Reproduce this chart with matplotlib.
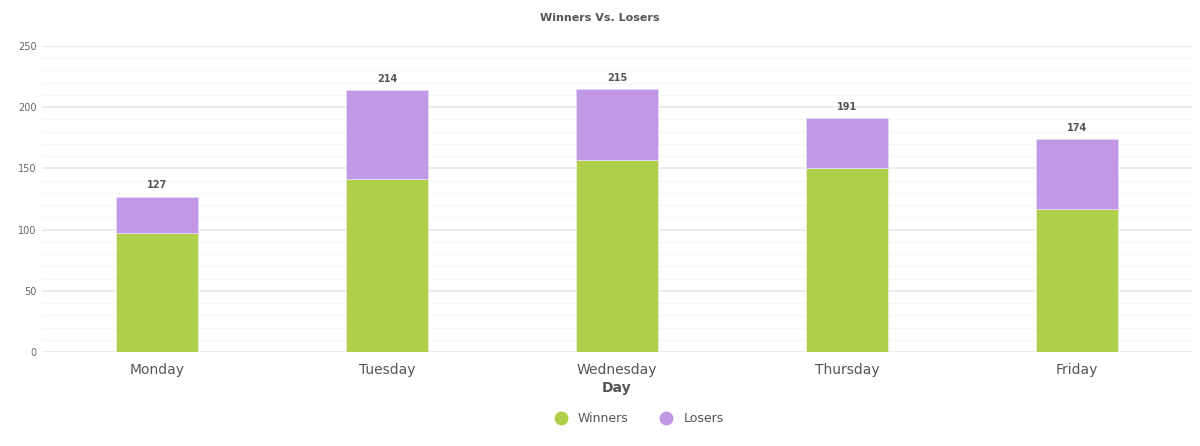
import matplotlib
matplotlib.use("Agg")
import matplotlib.pyplot as plt
import numpy as np

days = ["Monday", "Tuesday", "Wednesday", "Thursday", "Friday"]
winners = [97, 141, 157, 150, 117]
losers = [30, 73, 58, 41, 57]
totals = [127, 214, 215, 191, 174]

green = "#AFCF4B"
purple = "#C198E6"

fig = plt.figure(figsize=(12, 4.46), dpi=100)
ax = fig.add_axes([42/1200, 94/446, 1150/1200, 306/446])

x = np.arange(len(days))
w = 0.36
ax.bar(x, winners, w, color=green, edgecolor="#e8f0d0", linewidth=0.6, zorder=3, label="Winners")
ax.bar(x, losers, w, bottom=winners, color=purple, edgecolor="#e6d8f5", linewidth=0.6, zorder=3, label="Losers")

for xi, t in zip(x, totals):
    ax.text(xi, t + 5, str(t), ha="center", va="bottom", fontsize=7, fontweight="bold", color="#555555")

ax.set_xlim(-0.5, len(days) - 0.5)
ax.set_ylim(0, 250)
ax.set_yticks(np.arange(0, 251, 50))
ax.set_yticks(np.arange(0, 251, 10), minor=True)
ax.grid(axis="y", which="major", color="#ececec", linewidth=1.5, zorder=0)
ax.grid(axis="y", which="minor", color="#f6f6f6", linewidth=1.0, zorder=0)
ax.set_axisbelow(True)
for s in ax.spines.values():
    s.set_visible(False)
ax.tick_params(axis="y", which="both", length=0, labelsize=7, labelcolor="#666666", pad=4)
ax.tick_params(axis="x", length=0, labelsize=10, labelcolor="#555555", pad=8)
ax.set_xticks(x)
ax.set_xticklabels(days)
ax.set_xlabel("Day", fontsize=10, fontweight="bold", color="#555555", labelpad=3)

fig.text(0.5, 1 - 18/446, "Winners Vs. Losers", ha="center", va="center", fontsize=8, fontweight="bold", color="#555555")

handles = [plt.Line2D([], [], marker="o", linestyle="", markersize=9, color=green),
           plt.Line2D([], [], marker="o", linestyle="", markersize=9, color=purple)]
leg = fig.legend(handles, ["Winners", "Losers"], loc="center", bbox_to_anchor=(0.53, 1 - 419/446),
                 ncol=2, frameon=False, fontsize=9, handletextpad=0.4, columnspacing=2.0)
for t in leg.get_texts():
    t.set_color("#555555")

fig.savefig("out.png", dpi=100, facecolor="white")
